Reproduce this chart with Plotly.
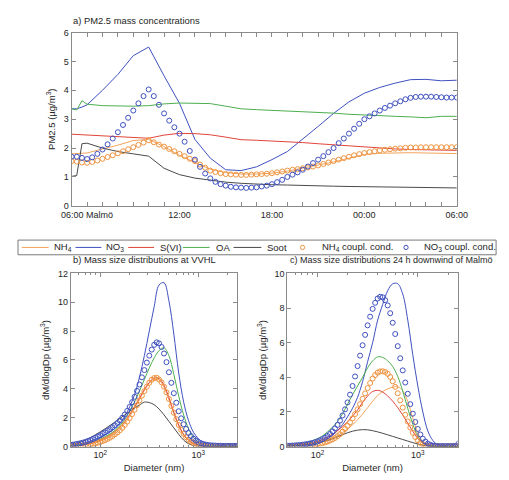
import plotly.graph_objects as go

# ---------------- panel a: PM2.5 time series (hours since 00:00 of day 1)
hours_line = [5, 5.33, 5.67, 6, 7, 8, 9, 10, 11, 12, 13, 14, 15, 16, 17,
              18, 19, 20, 21, 22, 23, 24, 25, 26, 27, 28, 29, 30]
nh4_a = [1.80, 1.81, 1.82, 1.83, 1.97, 2.10, 2.26, 2.30, 2.05, 1.75, 1.50, 1.27, 1.15, 1.10,
         1.10, 1.13, 1.20, 1.30, 1.40, 1.52, 1.65, 1.78, 1.82, 1.84, 1.84, 1.83, 1.82, 1.81]
no3_a = [3.36, 3.36, 3.42, 3.50, 4.00, 4.55, 5.20, 5.50, 4.50, 3.55, 2.30, 1.65, 1.25, 1.22,
         1.35, 1.60, 1.88, 2.30, 2.75, 3.20, 3.60, 3.90, 4.10, 4.25, 4.37, 4.38, 4.33, 4.35]
svi_a = [2.48, 2.47, 2.47, 2.46, 2.43, 2.40, 2.37, 2.34, 2.45, 2.51, 2.50, 2.46, 2.38, 2.29,
         2.27, 2.25, 2.22, 2.19, 2.15, 2.11, 2.07, 2.03, 2.00, 1.97, 1.95, 1.94, 1.93, 1.92]
oa_a = [3.36, 3.32, 3.64, 3.52, 3.47, 3.46, 3.45, 3.47, 3.53, 3.56, 3.56, 3.54, 3.45, 3.36,
        3.33, 3.31, 3.28, 3.26, 3.24, 3.21, 3.17, 3.14, 3.12, 3.10, 3.08, 3.05, 3.10, 3.10]
soot_a = [1.02, 1.05, 2.15, 2.17, 2.00, 1.88, 1.80, 1.72, 1.30, 1.08, 0.96, 0.88, 0.82, 0.78,
          0.75, 0.73, 0.72, 0.70, 0.69, 0.68, 0.67, 0.66, 0.65, 0.64, 0.63, 0.62, 0.62, 0.62]

# coupled-condensation runs, 20 min output
hours_cc = [5 + i / 3 for i in range(76)]
nh4_cc_a = [1.55, 1.53, 1.50, 1.49, 1.52, 1.57, 1.63, 1.69, 1.75, 1.82, 1.89, 1.96,
            2.03, 2.11, 2.19, 2.27, 2.20, 2.12, 2.05, 1.97, 1.89, 1.80, 1.72, 1.63,
            1.55, 1.43, 1.32, 1.22, 1.17, 1.13, 1.10, 1.09, 1.08, 1.07, 1.07, 1.08,
            1.09, 1.10, 1.11, 1.13, 1.16, 1.19, 1.22, 1.25, 1.27, 1.30, 1.33, 1.36,
            1.40, 1.45, 1.50, 1.55, 1.60, 1.65, 1.70, 1.75, 1.79, 1.83, 1.86, 1.89,
            1.92, 1.94, 1.96, 1.98, 1.99, 2.01, 2.02, 2.02, 2.03, 2.03, 2.03, 2.03,
            2.03, 2.03, 2.03, 2.03]
no3_cc_a = [1.70, 1.70, 1.66, 1.62, 1.68, 1.80, 1.95, 2.13, 2.33, 2.55, 2.80, 3.05,
            3.30, 3.55, 3.80, 4.03, 3.80, 3.50, 3.20, 2.95, 2.72, 2.50, 2.22, 1.90,
            1.60, 1.35, 1.12, 0.95, 0.83, 0.75, 0.70, 0.66, 0.64, 0.63, 0.62, 0.63,
            0.64, 0.67, 0.70, 0.75, 0.82, 0.90, 1.00, 1.08, 1.16, 1.25, 1.36, 1.48,
            1.60, 1.72, 1.86, 2.00, 2.17, 2.33, 2.50, 2.67, 2.84, 3.00, 3.10, 3.20,
            3.30, 3.39, 3.47, 3.55, 3.62, 3.69, 3.74, 3.77, 3.78, 3.78, 3.78, 3.77,
            3.76, 3.75, 3.75, 3.75]

# ---------------- panels b, c: mass size distributions
diam = [50.1, 53.1, 56.2, 59.6, 63.1, 66.8, 70.8, 75.0, 79.4, 84.1, 89.1, 94.4,
        100.0, 105.9, 112.2, 118.9, 125.9, 133.4, 141.3, 149.6, 158.5, 167.9, 177.8, 188.4,
        199.5, 211.3, 223.9, 237.1, 251.2, 266.1, 281.8, 298.5, 316.2, 335.0, 354.8, 375.8,
        398.1, 421.7, 446.7, 473.2, 501.2, 530.9, 562.3, 595.7, 631.0, 668.3, 707.9, 749.9,
        794.3, 841.4, 891.3, 944.1, 1000, 1059, 1122, 1189, 1259, 1334, 1413, 1496,
        1585, 1679, 1778, 1884, 1995, 2113, 2239, 2371, 2512]
diam_line = diam[::2]

# b) at VVHL
nh4_b = [0.04, 0.06, 0.08, 0.12, 0.18, 0.26, 0.37, 0.51, 0.69, 0.92, 1.22, 1.60, 2.08, 2.65,
         3.25, 3.88, 4.40, 4.68, 4.62, 4.10, 3.25, 2.28, 1.42, 0.80, 0.42, 0.20, 0.09, 0.04,
         0.02, 0.01, 0.01, 0.01, 0.01, 0.01, 0.01]
no3_b = [0.10, 0.14, 0.20, 0.28, 0.38, 0.50, 0.65, 0.82, 1.02, 1.28, 1.62, 2.10, 2.75, 3.60,
         4.80, 6.30, 8.00, 9.70, 11.20, 11.35, 10.10, 7.80, 5.10, 3.10, 1.80, 1.00, 0.55, 0.30,
         0.18, 0.12, 0.09, 0.07, 0.06, 0.05, 0.05]
svi_b = [0.05, 0.07, 0.10, 0.15, 0.22, 0.32, 0.44, 0.60, 0.80, 1.05, 1.35, 1.72, 2.20, 2.75,
         3.35, 3.95, 4.45, 4.75, 4.72, 4.25, 3.40, 2.40, 1.50, 0.85, 0.45, 0.22, 0.10, 0.05,
         0.02, 0.01, 0.01, 0.01, 0.01, 0.01, 0.01]
oa_b = [0.08, 0.11, 0.16, 0.22, 0.30, 0.40, 0.52, 0.68, 0.88, 1.12, 1.45, 1.88, 2.45, 3.10,
        3.85, 4.65, 5.45, 6.15, 6.65, 6.85, 6.30, 5.00, 3.50, 2.20, 1.25, 0.65, 0.32, 0.15,
        0.07, 0.04, 0.02, 0.02, 0.02, 0.02, 0.02]
soot_b = [0.15, 0.22, 0.32, 0.45, 0.62, 0.82, 1.02, 1.24, 1.47, 1.70, 1.95, 2.20, 2.45, 2.68,
          2.88, 3.08, 3.05, 2.90, 2.60, 2.20, 1.75, 1.30, 0.85, 0.45, 0.20, 0.08, 0.03, 0.01,
          0.01, 0.0, 0.0, 0.0, 0.0, 0.0, 0.0]
nh4_cc_b = [0.04, 0.04, 0.05, 0.06, 0.07, 0.08, 0.10, 0.12, 0.15, 0.18, 0.22, 0.27,
            0.32, 0.38, 0.45, 0.53, 0.62, 0.73, 0.85, 0.98, 1.13, 1.30, 1.50, 1.73,
            1.98, 2.25, 2.55, 2.87, 3.20, 3.53, 3.85, 4.15, 4.42, 4.63, 4.75, 4.77,
            4.65, 4.45, 4.15, 3.76, 3.30, 2.82, 2.35, 1.90, 1.50, 1.16, 0.88, 0.66,
            0.48, 0.35, 0.25, 0.18, 0.12, 0.09, 0.06, 0.04, 0.03, 0.02, 0.02, 0.02,
            0.02, 0.02, 0.02, 0.02, 0.02, 0.02, 0.02, 0.02, 0.02]
no3_cc_b = [0.12, 0.14, 0.17, 0.20, 0.24, 0.28, 0.33, 0.39, 0.45, 0.52, 0.60, 0.69,
            0.78, 0.88, 0.98, 1.09, 1.20, 1.33, 1.47, 1.63, 1.80, 2.00, 2.22, 2.47,
            2.75, 3.08, 3.45, 3.86, 4.30, 4.80, 5.30, 5.82, 6.30, 6.72, 7.05, 7.22,
            7.15, 6.90, 6.45, 5.85, 5.15, 4.42, 3.70, 3.04, 2.45, 1.96, 1.55, 1.22,
            0.95, 0.73, 0.55, 0.42, 0.32, 0.24, 0.18, 0.14, 0.11, 0.09, 0.08, 0.07,
            0.06, 0.06, 0.05, 0.05, 0.05, 0.05, 0.05, 0.05, 0.05]

# c) 24 h downwind of Malmö
nh4_c = [0.03, 0.04, 0.05, 0.07, 0.10, 0.14, 0.19, 0.26, 0.35, 0.47, 0.62, 0.80, 1.02, 1.26,
         1.55, 1.88, 2.25, 2.62, 2.95, 3.18, 3.33, 3.43, 3.45, 3.22, 2.60, 1.65, 0.80, 0.28,
         0.08, 0.03, 0.02, 0.02, 0.02, 0.02, 0.02]
no3_c = [0.05, 0.06, 0.08, 0.10, 0.13, 0.17, 0.23, 0.32, 0.45, 0.65, 0.92, 1.27, 1.72, 2.22,
         2.85, 3.75, 4.90, 6.00, 7.30, 8.20, 9.00, 9.40, 9.40, 8.80, 7.30, 5.30, 3.50, 2.00,
         0.90, 0.35, 0.10, 0.04, 0.04, 0.06, 0.35]
svi_c = [0.05, 0.07, 0.09, 0.12, 0.17, 0.23, 0.31, 0.41, 0.55, 0.72, 0.92, 1.16, 1.43, 1.75,
         2.12, 2.55, 2.92, 3.18, 3.25, 3.15, 2.92, 2.62, 2.25, 1.82, 1.35, 0.88, 0.47, 0.20,
         0.07, 0.03, 0.02, 0.02, 0.02, 0.02, 0.02]
oa_c = [0.08, 0.10, 0.13, 0.18, 0.25, 0.34, 0.46, 0.62, 0.85, 1.12, 1.45, 1.90, 2.45, 3.00,
        3.50, 4.00, 4.55, 4.95, 5.18, 5.15, 4.95, 4.62, 4.05, 3.20, 2.20, 1.30, 0.60, 0.22,
        0.07, 0.03, 0.02, 0.02, 0.02, 0.02, 0.02]
soot_c = [0.03, 0.04, 0.06, 0.08, 0.11, 0.15, 0.20, 0.27, 0.36, 0.46, 0.57, 0.69, 0.80, 0.89,
          0.95, 0.98, 0.97, 0.92, 0.85, 0.77, 0.68, 0.59, 0.50, 0.41, 0.32, 0.23, 0.15, 0.08,
          0.03, 0.01, 0.01, 0.01, 0.01, 0.01, 0.01]
nh4_cc_c = [0.02, 0.02, 0.03, 0.03, 0.04, 0.04, 0.05, 0.06, 0.07, 0.08, 0.10, 0.12,
            0.14, 0.17, 0.20, 0.24, 0.29, 0.35, 0.42, 0.50, 0.60, 0.72, 0.86, 1.02,
            1.20, 1.40, 1.63, 1.88, 2.15, 2.45, 2.76, 3.07, 3.38, 3.67, 3.93, 4.13,
            4.27, 4.34, 4.35, 4.31, 4.20, 4.02, 3.77, 3.45, 3.08, 2.67, 2.25, 1.84,
            1.45, 1.10, 0.80, 0.55, 0.36, 0.22, 0.13, 0.07, 0.04, 0.03, 0.02, 0.02,
            0.02, 0.02, 0.02, 0.02, 0.02, 0.02, 0.02, 0.02, 0.02]
no3_cc_c = [0.05, 0.05, 0.06, 0.07, 0.08, 0.09, 0.11, 0.13, 0.15, 0.18, 0.21, 0.25,
            0.30, 0.36, 0.43, 0.51, 0.61, 0.73, 0.88, 1.05, 1.25, 1.50, 1.80, 2.15,
            2.55, 3.00, 3.50, 4.05, 4.65, 5.25, 5.85, 6.45, 7.00, 7.50, 7.95, 8.30,
            8.55, 8.65, 8.62, 8.45, 8.15, 7.70, 7.15, 6.50, 5.80, 5.10, 4.40, 3.70,
            3.05, 2.45, 1.90, 1.42, 1.02, 0.70, 0.46, 0.29, 0.17, 0.10, 0.06, 0.04,
            0.03, 0.03, 0.03, 0.03, 0.03, 0.03, 0.03, 0.03, 0.03]

for s in (nh4_a, no3_a, svi_a, oa_a, soot_a):
    assert len(s) == len(hours_line)
for s in (nh4_cc_a, no3_cc_a):
    assert len(s) == len(hours_cc)
for s in (nh4_b, no3_b, svi_b, oa_b, soot_b, nh4_c, no3_c, svi_c, oa_c, soot_c):
    assert len(s) == len(diam_line), len(s)
for s in (nh4_cc_b, no3_cc_b, nh4_cc_c, no3_cc_c):
    assert len(s) == len(diam), len(s)

C_NH4 = "#F3A45C"
C_NH4_CC = "#EE9440"
C_NO3 = "#3F51C0"
C_SVI = "#E0443A"
C_OA = "#4DAE4F"
C_SOOT = "#4A4A4A"
FONT = "Liberation Sans, Arial, sans-serif"
TXT = "#262626"
AX = "#8A8A8A"

line_names = ["NH<sub>4</sub>", "NO<sub>3</sub>", "S(VI)", "OA", "Soot"]
cc_names = ["NH<sub>4</sub> coupl. cond.", "NO<sub>3</sub> coupl. cond."]
line_colors = [C_NH4, C_NO3, C_SVI, C_OA, C_SOOT]
cc_colors = [C_NH4_CC, C_NO3]

# page body has an 8px margin, so the figure is placed 8px in from the top-left
OFF = 8
W, H = 509 - OFF, 480 - OFF


def px(x):
    return (x - OFF) / W


def py(y):
    return 1 - (y - OFF) / H


fig = go.Figure()

panels = [
    ("x", "y", hours_line, [nh4_a, no3_a, svi_a, oa_a, soot_a], hours_cc, [nh4_cc_a, no3_cc_a]),
    ("x2", "y2", diam_line, [nh4_b, no3_b, svi_b, oa_b, soot_b], diam, [nh4_cc_b, no3_cc_b]),
    ("x3", "y3", diam_line, [nh4_c, no3_c, svi_c, oa_c, soot_c], diam, [nh4_cc_c, no3_cc_c]),
]
for xa, ya, xl, series, xc, cc in panels:
    for i, ys in enumerate(series):
        fig.add_trace(go.Scatter(
            x=xl, y=ys, mode="lines", name=line_names[i], xaxis=xa, yaxis=ya,
            line=dict(color=line_colors[i], width=1,
                      shape="linear" if xa == "x" else "spline"),
            showlegend=False))
    for j, ys in enumerate(cc):
        fig.add_trace(go.Scatter(
            x=xc, y=ys, mode="markers", name=cc_names[j], xaxis=xa, yaxis=ya,
            marker=dict(symbol="circle-open", size=5, color=cc_colors[j], line=dict(width=1)),
            showlegend=False))

common = dict(showline=True, linecolor=AX, linewidth=1, mirror="ticks", ticks="inside",
              ticklen=4, tickcolor=AX, showgrid=False, zeroline=False,
              tickfont=dict(size=9, color=TXT, family=FONT))
log_minor = [60, 70, 80, 90, 200, 300, 400, 500, 600, 700, 800, 900, 2000]
ylab = dict(size=9.5, color=TXT, family=FONT)

fig.update_layout(
    width=W, height=H,
    margin=dict(l=0, r=0, t=0, b=0),
    paper_bgcolor="white", plot_bgcolor="white",
    font=dict(family=FONT, size=9.5, color=TXT),
    showlegend=False,
    xaxis=dict(common, domain=[px(64), px(466)], range=[5, 30], anchor="y",
               tickmode="array", tickvals=[6, 12, 18, 24, 30],
               ticktext=["06:00 Malmö", "12:00", "18:00", "00:00", "06:00"],
               minor=dict(tickmode="linear", tick0=5, dtick=1, ticks="inside", ticklen=4,
                          tickcolor=AX)),
    yaxis=dict(common, domain=[py(205), py(28)], range=[0, 6], dtick=1, anchor="x",
               title=dict(text="PM2.5 (µg/m<sup>3</sup>)", standoff=6, font=ylab)),
    xaxis2=dict(common, type="log", domain=[px(63), px(237)], range=[1.699, 3.398],
                anchor="y2", tickmode="array", tickvals=[100, 1000],
                ticktext=["10<sup>2</sup>", "10<sup>3</sup>"],
                minor=dict(tickmode="array", tickvals=log_minor, ticks="inside", ticklen=2,
                           tickcolor=AX),
                title=dict(text="Diameter (nm)", standoff=4, font=ylab)),
    yaxis2=dict(common, domain=[py(451), py(274)], range=[0, 12], dtick=2, anchor="x2",
                title=dict(text="dM/dlogDp (µg/m<sup>3</sup>)", standoff=6, font=ylab)),
    xaxis3=dict(common, type="log", domain=[px(289), px(467)], range=[1.699, 3.398],
                anchor="y3", tickmode="array", tickvals=[100, 1000],
                ticktext=["10<sup>2</sup>", "10<sup>3</sup>"],
                minor=dict(tickmode="array", tickvals=log_minor, ticks="inside", ticklen=2,
                           tickcolor=AX),
                title=dict(text="Diameter (nm)", standoff=4, font=ylab)),
    yaxis3=dict(common, domain=[py(451), py(274)], range=[0, 10], dtick=2, anchor="x3",
                title=dict(text="dM/dlogDp (µg/m<sup>3</sup>)", standoff=6, font=ylab)),
)

# panel titles
for text, x, y, size in [("a) PM2.5 mass concentrations", 63, 16, 9.4),
                         ("b) Mass size distributions at VVHL", 63, 260, 9.4),
                         ("c) Mass size distributions 24 h downwind of Malmö", 290, 260, 9)]:
    fig.add_annotation(text=text, x=px(x), y=py(y), xref="paper", yref="paper",
                       xanchor="left", yanchor="middle", showarrow=False,
                       font=dict(size=size, color=TXT, family=FONT))

# legend box (drawn by hand so the entries sit in one row like the original)
LEG_Y = 247.5
fig.add_shape(type="rect", xref="paper", yref="paper", x0=px(OFF), x1=px(507),
              y0=py(255), y1=py(240), line=dict(color="#7A7A7A", width=1),
              fillcolor="rgba(0,0,0,0)")
line_keys = [(12, 40, 43), (68, 95, 98), (123, 150, 154), (180, 208, 213), (233, 262, 266)]
for (x0, x1, xt), name, col in zip(line_keys, line_names, line_colors):
    fig.add_shape(type="line", xref="paper", yref="paper", x0=px(x0), x1=px(x1),
                  y0=py(LEG_Y), y1=py(LEG_Y), line=dict(color=col, width=1))
    fig.add_annotation(text=name, x=px(xt), y=py(LEG_Y), xref="paper", yref="paper",
                       xanchor="left", yanchor="middle", showarrow=False,
                       font=dict(size=9.5, color=TXT, family=FONT))
cc_keys = [(305, 323), (413, 430)]
for (xm, xt), name, col in zip(cc_keys, cc_names, cc_colors):
    fig.add_shape(type="circle", xref="paper", yref="paper", x0=px(xm - 2.2), x1=px(xm + 2.2),
                  y0=py(LEG_Y + 2.2), y1=py(LEG_Y - 2.2), line=dict(color=col, width=1))
    fig.add_annotation(text=name, x=px(xt), y=py(LEG_Y), xref="paper", yref="paper",
                       xanchor="left", yanchor="middle", showarrow=False,
                       font=dict(size=9.5, color=TXT, family=FONT))

fig.write_html("out.html")
